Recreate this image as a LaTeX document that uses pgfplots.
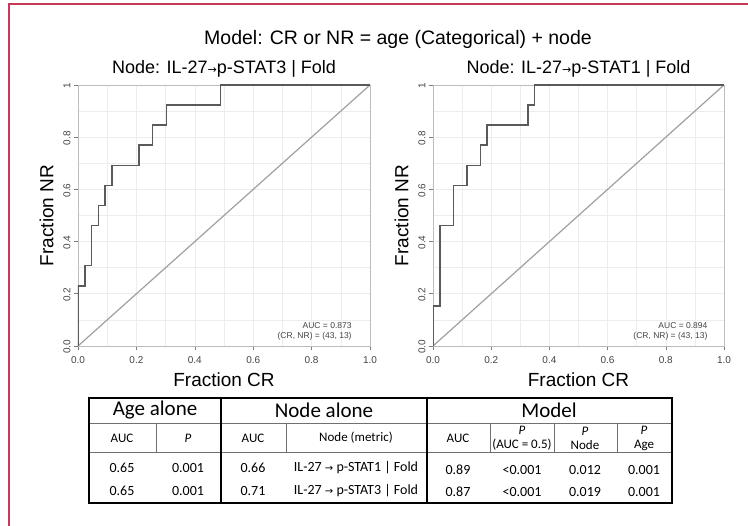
\documentclass[border=0pt]{standalone}
\usepackage{pgfplots}
\pgfplotsset{compat=1.18}
\usepackage{fontspec}
\setmainfont{Liberation Sans}
\newfontfamily\tabfont{Carlito}
\newfontfamily\arrowfont{DejaVu Sans}
\definecolor{framec}{HTML}{C8385A}
\definecolor{roc}{HTML}{5A5A5A}
\definecolor{diag}{HTML}{A0A0A0}
\definecolor{boxc}{HTML}{BDBDBD}
\definecolor{gridc}{HTML}{EDEDED}
\definecolor{tickc}{HTML}{444444}
\definecolor{tabline}{HTML}{707070}
\pgfplotsset{rocax/.style={
  scale only axis, width=292pt, height=261pt,
  xmin=0,xmax=1,ymin=0,ymax=1,
  axis line style={boxc, line width=0.9pt},
  xtick={0,0.2,...,1}, ytick={0,0.2,...,1},
  xticklabels={0.0,0.2,0.4,0.6,0.8,1.0},
  yticklabels={0.0,0.2,0.4,0.6,0.8,1},
  minor tick num=1,
  grid=both, major grid style={gridc, line width=0.6pt}, minor grid style={gridc,line width=0.6pt},
  tick pos=left, tick align=outside, major tick length=4pt, minor tick length=0pt,
  tick style={tickc!70, line width=0.6pt},
  ticklabel style={font=\fontsize{10}{12}\selectfont, text=tickc},
  xticklabel style={yshift=-3pt},
  yticklabel style={rotate=90, anchor=south, xshift=-1pt},
  /pgf/number format/assume math mode=true,
  xlabel={Fraction CR}, ylabel={Fraction NR},
  label style={font=\fontsize{19}{22}\selectfont},
  xlabel style={at={(axis description cs:0.5,-0.13)}, anchor=center},
  ylabel style={at={(axis description cs:-0.108,0.5)}, anchor=center},
  title style={at={(axis description cs:0.5,1.069)}, anchor=center, yshift=-8pt, font=\fontsize{18}{21}\selectfont},
}}
\begin{document}
\begin{tikzpicture}[x=1pt,y=1pt]
\useasboundingbox (0,0) rectangle (748,526);
\fill[white] (0,0) rectangle (748,526);
\draw[framec, line width=1.5pt] (9,0) -- (9,522) -- (748,522);
\node[font=\fontsize{19.5}{22}\selectfont] at (398,487) {Model: CR or NR = age (Categorical) + node};

\begin{axis}[rocax, at={(78pt,180pt)}, anchor=south west,
  title={Node: IL-27{\arrowfont\fontsize{11}{12}\selectfont →}p-STAT3 | Fold}]
\addplot[diag, line width=1.2pt] coordinates {(0,0) (1,1)};
\addplot[roc, line width=1.5pt] coordinates {
(0,0) (0,0.2308) (0.0233,0.2308) (0.0233,0.3077) (0.0465,0.3077) (0.0465,0.4615)
(0.0698,0.4615) (0.0698,0.5385) (0.0930,0.5385) (0.0930,0.6154) (0.1163,0.6154)
(0.1163,0.6923) (0.2093,0.6923) (0.2093,0.7692) (0.2558,0.7692) (0.2558,0.8462)
(0.3023,0.8462) (0.3023,0.9231) (0.4884,0.9231) (0.4884,1) (1,1)};
\node[anchor=east, font=\fontsize{8.5}{10}\selectfont, text=tickc] at (axis cs:0.949,0.080) {AUC = 0.873};
\node[anchor=east, font=\fontsize{8.5}{10}\selectfont, text=tickc] at (axis cs:0.949,0.038) {(CR, NR) = (43, 13)};
\end{axis}

\begin{axis}[rocax, at={(433pt,180pt)}, anchor=south west, width=291pt,
  title={Node: IL-27{\arrowfont\fontsize{11}{12}\selectfont →}p-STAT1 | Fold}]
\addplot[diag, line width=1.2pt] coordinates {(0,0) (1,1)};
\addplot[roc, line width=1.5pt] coordinates {
(0,0) (0,0.1538) (0.0233,0.1538) (0.0233,0.4615) (0.0698,0.4615) (0.0698,0.6154)
(0.1163,0.6154) (0.1163,0.6923) (0.1628,0.6923) (0.1628,0.7692) (0.1860,0.7692)
(0.1860,0.8462) (0.3256,0.8462) (0.3256,0.9231) (0.3488,0.9231) (0.3488,1) (1,1)};
\node[anchor=east, font=\fontsize{8.5}{10}\selectfont, text=tickc] at (axis cs:0.955,0.080) {AUC = 0.894};
\node[anchor=east, font=\fontsize{8.5}{10}\selectfont, text=tickc] at (axis cs:0.955,0.038) {(CR, NR) = (43, 13)};
\end{axis}

% table
\draw[tabline, line width=0.9pt] (89,103) -- (672,103);
\draw[tabline, line width=1pt] (89,73) -- (672,73);
\foreach \xx in {156,286,490,554,617} {\draw[tabline, line width=0.8pt] (\xx,73) -- (\xx,103);}
\draw[black, line width=1.4pt] (221,23) -- (221,128);
\draw[black, line width=1.4pt] (427,23) -- (427,128);
\draw[black, line width=2.5pt] (89,23) rectangle (672,128);
\begin{scope}[every node/.style={font=\tabfont}]
\node[font=\tabfont\fontsize{21}{24}\selectfont] at (155,116) {Age alone};
\node[font=\tabfont\fontsize{21}{24}\selectfont] at (324,116) {Node alone};
\node[font=\tabfont\fontsize{21}{24}\selectfont] at (549,116) {Model};
\tikzset{sub/.style={font=\tabfont\fontsize{13}{14}\selectfont, align=center}}
\node[sub] at (122,88) {AUC};
\node[sub] at (188,88) {\textit{P}};
\node[sub] at (253,88) {AUC};
\node[sub] at (356,88) {Node (metric)};
\node[sub] at (458,88) {AUC};
\node[sub] at (522,88) {\textit{P}\\(AUC = 0.5)};
\node[sub] at (585,88) {\textit{P}\\Node};
\node[sub] at (644,88) {\textit{P}\\Age};
\tikzset{dat/.style={font=\tabfont\fontsize{14}{16}\selectfont}}
\node[dat] at (122,58) {0.65};
\node[dat] at (188,58) {0.001};
\node[dat] at (253,58) {0.66};
\node[dat] at (356,58) {IL-27 {\arrowfont\fontsize{10}{11}\selectfont →} p-STAT1 | Fold};
\node[dat] at (458,56) {0.89};
\node[dat] at (522,56) {<0.001};
\node[dat] at (585,56) {0.012};
\node[dat] at (644,56) {0.001};
\node[dat] at (122,35) {0.65};
\node[dat] at (188,35) {0.001};
\node[dat] at (253,35) {0.71};
\node[dat] at (356,35) {IL-27 {\arrowfont\fontsize{10}{11}\selectfont →} p-STAT3 | Fold};
\node[dat] at (458,34) {0.87};
\node[dat] at (522,34) {<0.001};
\node[dat] at (585,34) {0.019};
\node[dat] at (644,34) {0.001};
\end{scope}
\end{tikzpicture}
\end{document}
